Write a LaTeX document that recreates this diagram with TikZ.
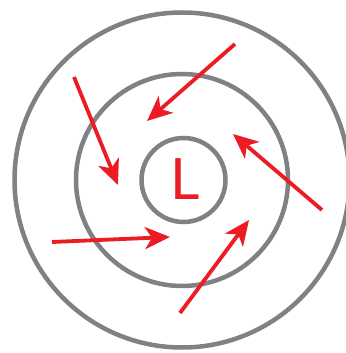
\documentclass[tikz,border=0pt]{standalone}
\usepackage{fontspec}
\setmainfont{Liberation Sans}
\newfontfamily\thinsans{Lato}
\usetikzlibrary{arrows.meta}
\definecolor{ringgray}{RGB}{128,129,133}
\definecolor{windred}{RGB}{237,28,36}
\tikzset{
  ring/.style={draw=ringgray, line width=4.5pt, circle, inner sep=0pt, fill=none},
  wind/.style={draw=windred, line width=3.8pt, -{Stealth[length=25pt, width=22pt, inset=7pt]}},
}
\begin{document}
\begin{tikzpicture}[x=1pt, y=1pt]
\useasboundingbox (0,0) rectangle (345,353);
\fill[white] (0,0) rectangle (345,353);
% rings (pixel y flipped: y = 353 - ypx)
\node[ring, minimum size=335pt] (outer) at (182,173) {};
\node[ring, minimum size=212pt] (middle) at (182,173) {};
\node[ring, minimum size=84pt] (inner) at (183.5,173) {};
\node[text=windred, font=\thinsans\fontsize{57}{57}\selectfont, inner sep=0pt] (low) at (185,173.5) {L};
% arrows
\coordinate (a1s) at (235,309); \coordinate (a1e) at (147,232);
\coordinate (a2s) at (74,276);  \coordinate (a2e) at (118,168);
\coordinate (a3s) at (322,143); \coordinate (a3e) at (233,219);
\coordinate (a4s) at (52,111);  \coordinate (a4e) at (170,116);
\coordinate (a5s) at (180,40);  \coordinate (a5e) at (249,133);
\draw[wind] (a1s) -- (a1e);
\draw[wind] (a2s) -- (a2e);
\draw[wind] (a3s) -- (a3e);
\draw[wind] (a4s) -- (a4e);
\draw[wind] (a5s) -- (a5e);
\end{tikzpicture}
\end{document}
